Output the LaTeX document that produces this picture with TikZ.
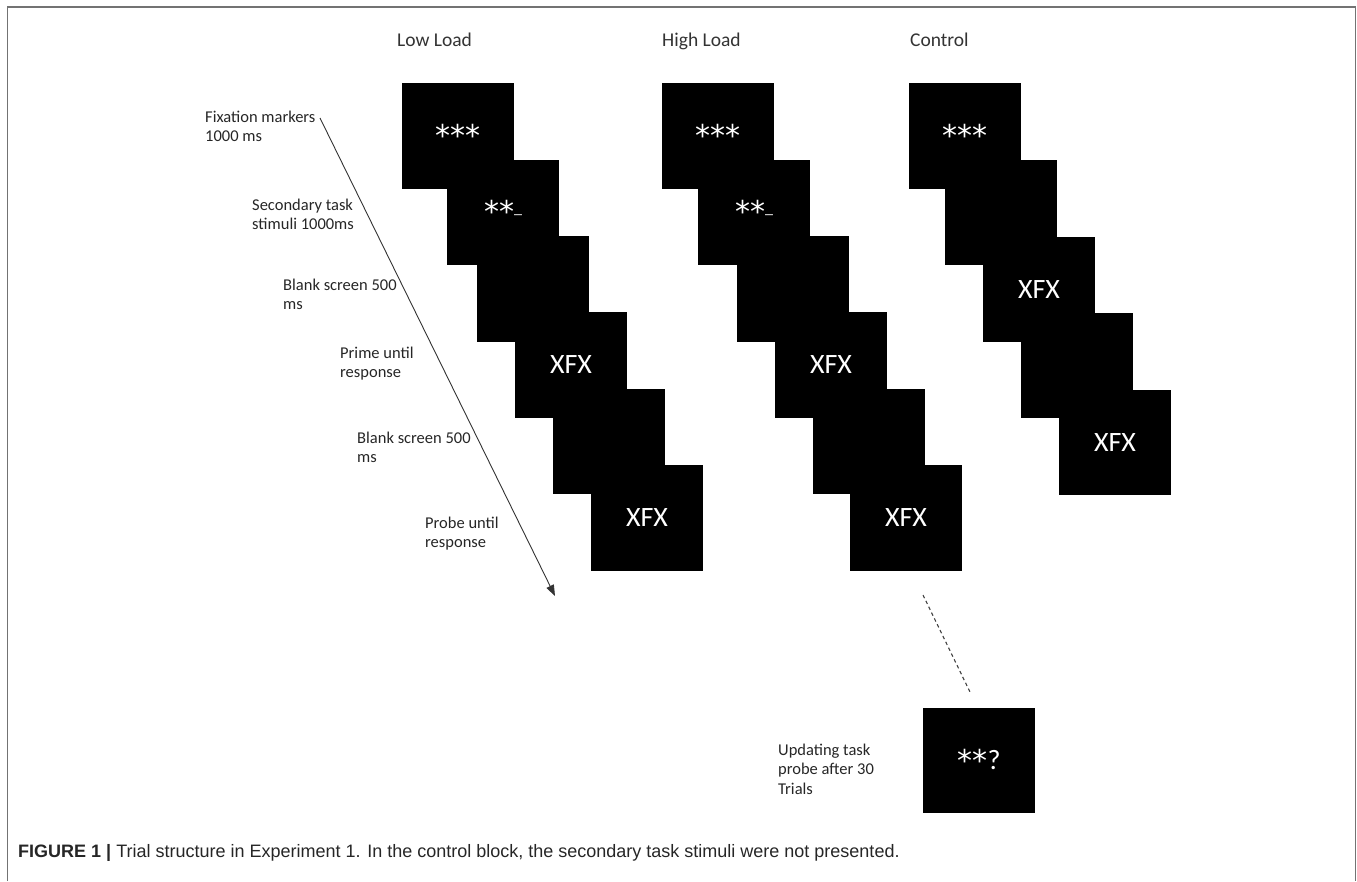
\documentclass[tikz,border=0pt]{standalone}
\usepackage{fontspec}
\setmainfont{Carlito}
\newfontfamily\capfont{Liberation Sans}
\newfontfamily\starfont{DejaVu Sans}
\usetikzlibrary{arrows.meta}

\newcommand\stimstars[1]{\raisebox{-1.5pt}{\starfont\fontsize{30}{30}\selectfont #1}}
\newcommand\stimgap{\raisebox{8pt}{\fontsize{16}{16}\selectfont\_}}

\tikzset{
  screen/.style={fill=black, text=white, inner sep=0pt,
    minimum width=112pt, minimum height=105.5pt,
    text height=18pt, text depth=0pt, font=\fontsize{28}{30}\selectfont},
  steplabel/.style={anchor=base west, align=left, inner sep=0pt,
    text=black!85, font=\fontsize{16.5}{19.5}\selectfont},
  blocktitle/.style={anchor=base west, inner sep=0pt,
    text=black!80, font=\fontsize{19.5}{22}\selectfont},
  timeline/.style={line width=0.9pt, black!80, -{Triangle[length=11pt,width=8pt]}},
  laterline/.style={line width=1.1pt, black!75, dash pattern=on 3.5pt off 3pt},
}

\begin{document}
\begin{tikzpicture}[x=1pt,y=-1pt]
\useasboundingbox (0,0) rectangle (1357,881);
\draw[line width=1.5pt, black!55] (7.5,881) -- (7.5,7) -- (1355.5,7) -- (1355.5,881);

% block titles
\node[blocktitle] (tlow) at (397,46.5) {Low Load};
\node[blocktitle] (thigh) at (662,46.5) {High Load};
\node[blocktitle] (tctrl) at (910,46.5) {Control};

% low load
\node[screen] (l1) at (458,135.75) {\stimstars{***}};
\node[screen] (l2) at (503,212.25) {\stimstars{**}\stimgap};
\node[screen] (l3) at (533,288.75) {};
\node[screen] (l4) at (571,364.75) {XFX};
\node[screen] (l5) at (609,441.25) {};
\node[screen] (l6) at (647,517.75) {XFX};

% high load
\node[screen] (h1) at (718,135.75) {\stimstars{***}};
\node[screen] (h2) at (754,212.25) {\stimstars{**}\stimgap};
\node[screen] (h3) at (793,288.75) {};
\node[screen] (h4) at (831,364.75) {XFX};
\node[screen] (h5) at (869,441.25) {};
\node[screen] (h6) at (906,517.75) {XFX};

% control
\node[screen] (c1) at (965,135.75) {\stimstars{***}};
\node[screen] (c2) at (1001,212.5) {};
\node[screen] (c3) at (1039,289.5) {XFX};
\node[screen] (c4) at (1077,365.5) {};
\node[screen] (c5) at (1115,442.5) {XFX};

% updating probe
\node[screen] (probe) at (979,760.5) {\stimstars{**}?};

% step labels
\node[steplabel] (fix) at (205,141.5) {Fixation markers\\1000 ms};
\node[steplabel] (sec) at (252,229.5) {Secondary task\\stimuli 1000ms};
\node[steplabel] (blank1) at (283,309.5) {Blank screen 500\\ms};
\node[steplabel] (prime) at (340,377.5) {Prime until\\response};
\node[steplabel] (blank2) at (357,462.5) {Blank screen 500\\ms};
\node[steplabel] (probelab) at (425,547.5) {Probe until\\response};
\node[steplabel] (updlab) at (778,794) {Updating task\\probe after 30\\Trials};

% time arrow and break
\coordinate (tfrom) at (320,118);
\coordinate (tto) at (555,596);
\draw[timeline] (tfrom) -- (tto);
\coordinate (dfrom) at (923,595);
\coordinate (dto) at (970,692);
\draw[laterline] (dfrom) -- (dto);

\node[anchor=base west, inner sep=0pt, text=black!85,
  font=\capfont\fontsize{18}{20}\selectfont] (caption) at (18,857)
  {\textbf{FIGURE 1 |} Trial structure in Experiment 1. In the control block, the secondary task stimuli were not presented.};
\end{tikzpicture}
\end{document}
